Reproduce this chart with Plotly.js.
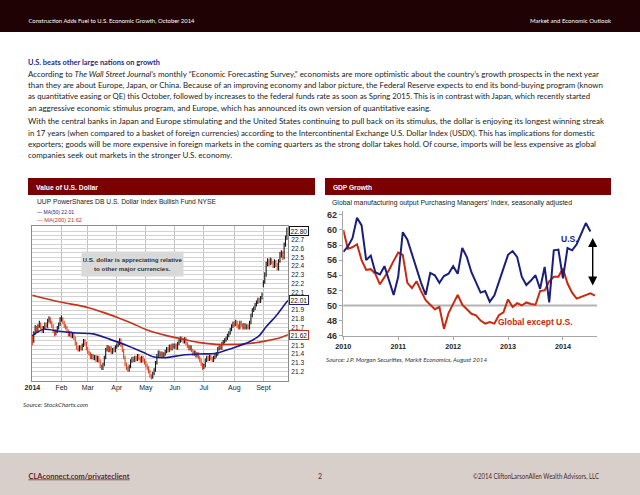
<!DOCTYPE html>
<html><head><meta charset="utf-8">
<script src="https://cdn.plot.ly/plotly-3.0.1.min.js"></script>
<style>
html,body{margin:0;padding:0;background:#fff;}
#page{position:relative;width:640px;height:495px;overflow:hidden;background:#fff;}
#bg{position:absolute;left:0;top:0;}
#chart{position:absolute;left:0;top:0;width:640px;height:495px;}
.body{font-family:Lato,"Open Sans",sans-serif;font-size:8.1px;fill:#222;}
</style></head><body>
<div id="page">
<svg id="bg" width="640" height="495" xmlns="http://www.w3.org/2000/svg">
  <rect x="0" y="0" width="640" height="32" fill="#1e0204"/>
  <text x="28.5" y="23" fill="#fff" font-family="Lato,sans-serif" font-size="6.3" textLength="166" lengthAdjust="spacingAndGlyphs">Construction Adds Fuel to U.S. Economic Growth, October 2014</text>
  <text x="530" y="23" fill="#fff" font-family="Lato,sans-serif" font-size="6.3" textLength="81" lengthAdjust="spacingAndGlyphs">Market and Economic Outlook</text>

  <text x="28" y="65" fill="#1f2a86" font-family="Lato,sans-serif" font-size="8.4" font-weight="bold" textLength="132" lengthAdjust="spacingAndGlyphs">U.S. beats other large nations on growth</text>
  <text id="refLine" class="body" x="28" y="76.5" textLength="571" lengthAdjust="spacingAndGlyphs">According to <tspan font-style="italic">The Wall Street Journal’s</tspan> monthly “Economic Forecasting Survey,” economists are more optimistic about the country’s growth prospects in the next year</text>
  <text class="body" x="28" y="88" textLength="575" lengthAdjust="spacingAndGlyphs">than they are about Europe, Japan, or China. Because of an improving economy and labor picture, the Federal Reserve expects to end its bond-buying program (known</text>
  <text class="body" x="28" y="99.3" textLength="562" lengthAdjust="spacingAndGlyphs">as quantitative easing or QE) this October, followed by increases to the federal funds rate as soon as Spring 2015. This is in contrast with Japan, which recently started</text>
  <text class="body lastline" x="28" y="110.6">an aggressive economic stimulus program, and Europe, which has announced its own version of quantitative easing.</text>
  <text class="body" x="28" y="124.2" textLength="576" lengthAdjust="spacingAndGlyphs">With the central banks in Japan and Europe stimulating and the United States continuing to pull back on its stimulus, the dollar is enjoying its longest winning streak</text>
  <text class="body" x="28" y="135.5" textLength="567" lengthAdjust="spacingAndGlyphs">in 17 years (when compared to a basket of foreign currencies) according to the Intercontinental Exchange U.S. Dollar Index (USDX). This has implications for domestic</text>
  <text class="body" x="28" y="146.8" textLength="568" lengthAdjust="spacingAndGlyphs">exporters; goods will be more expensive in foreign markets in the coming quarters as the strong dollar takes hold. Of course, imports will be less expensive as global</text>
  <text class="body lastline" x="28" y="158.1">companies seek out markets in the stronger U.S. economy.</text>

  <rect x="28" y="178" width="287" height="17" fill="#7b0000"/>
  <rect x="325" y="178" width="286" height="17" fill="#7b0000"/>
  <text x="36" y="190" fill="#fff" font-family="'Liberation Sans',Arial,sans-serif" font-weight="bold" font-size="8" textLength="62" lengthAdjust="spacingAndGlyphs">Value of U.S. Dollar</text>
  <text x="333" y="190" fill="#fff" font-family="'Liberation Sans',Arial,sans-serif" font-weight="bold" font-size="8" textLength="39" lengthAdjust="spacingAndGlyphs">GDP Growth</text>

  <text x="37" y="203.5" fill="#222" font-family="'Liberation Sans',Arial,sans-serif" font-size="6.6" textLength="179" lengthAdjust="spacingAndGlyphs">UUP PowerShares DB U.S. Dollar Index Bullish Fund NYSE</text>
  <text x="37" y="214" fill="#1c1c8c" font-family="'Liberation Sans',Arial,sans-serif" font-size="5.6" textLength="37" lengthAdjust="spacingAndGlyphs">— MA(50) 22.01</text>
  <text x="37" y="221.5" fill="#c8321a" font-family="'Liberation Sans',Arial,sans-serif" font-size="5.6" textLength="45" lengthAdjust="spacingAndGlyphs">— MA(200) 21.62</text>

  <text x="332" y="205.3" fill="#222" font-family="'Liberation Sans',Arial,sans-serif" font-size="6.6" textLength="240" lengthAdjust="spacingAndGlyphs">Global manufacturing output Purchasing Managers’ Index, seasonally adjusted</text>

  <text x="23" y="407" fill="#333" font-family="Lato,sans-serif" font-style="italic" font-size="5.8" textLength="65" lengthAdjust="spacingAndGlyphs">Source: StockCharts.com</text>
  <text x="326" y="362" fill="#333" font-family="Lato,sans-serif" font-style="italic" font-size="5.8" textLength="161" lengthAdjust="spacingAndGlyphs">Source: J.P. Morgan Securities, Markit Economics, August 2014</text>

  <rect x="0" y="453" width="640" height="42" fill="#d8cfca"/>
  <text x="28.5" y="478.5" fill="#6b1f1f" font-family="Lato,sans-serif" font-size="7" font-weight="bold" text-decoration="underline" textLength="101" lengthAdjust="spacingAndGlyphs">CLAconnect.com/privateclient</text>
  <text x="318" y="478.5" fill="#4a2a2a" font-family="Lato,sans-serif" font-size="7">2</text>
  <text x="473" y="478.5" fill="#4a2a2a" font-family="Lato,sans-serif" font-size="6.6" textLength="126" lengthAdjust="spacingAndGlyphs">©2014 CliftonLarsonAllen Wealth Advisors, LLC</text>
</svg>
<div id="chart"></div>
</div>
<script>
// paragraph last lines: same horizontal scaling as the full-width reference line
(function () {
  const ref = document.getElementById('refLine');
  const natural = ref.cloneNode(true);
  natural.removeAttribute('textLength'); natural.removeAttribute('lengthAdjust');
  natural.setAttribute('visibility', 'hidden');
  ref.parentNode.appendChild(natural);
  const k = 571 / natural.getComputedTextLength();
  natural.remove();
  document.querySelectorAll('.lastline').forEach(el => {
    el.setAttribute('textLength', (el.getComputedTextLength() * k).toFixed(1));
    el.setAttribute('lengthAdjust', 'spacingAndGlyphs');
  });
})();

// ---------- Value of U.S. Dollar (UUP), daily bars, Jan - Sep 2014 ----------
const monthTickIdx = [0, 21, 40, 61, 82, 103, 124, 146, 167];
const monthTickText = ['<b>2014</b>', 'Feb', 'Mar', 'Apr', 'May', 'Jun', 'Jul', 'Aug', 'Sept'];

const uupOpen = [
 21.60,21.55,21.64,21.70,21.66,21.72,21.75,21.70,21.66,21.70,21.74,21.72,21.78,21.80,21.76,21.72,21.66,21.63,21.66,21.70,21.74,
 21.79,21.80,21.76,21.72,21.70,21.66,21.62,21.64,21.60,21.62,21.58,21.52,21.47,21.45,21.48,21.46,21.50,21.55,21.52,
 21.46,21.42,21.40,21.36,21.38,21.35,21.37,21.33,21.36,21.32,21.26,21.24,21.28,21.36,21.45,21.48,21.44,21.47,21.42,21.46,21.44,
 21.48,21.50,21.52,21.56,21.50,21.44,21.36,21.28,21.24,21.22,21.26,21.32,21.35,21.33,21.36,21.34,21.38,21.35,21.32,21.36,21.33,
 21.30,21.27,21.24,21.20,21.15,21.13,21.18,21.22,21.30,21.38,21.42,21.39,21.41,21.38,21.40,21.43,21.46,21.44,21.49,21.46,21.50,
 21.48,21.50,21.47,21.52,21.55,21.58,21.56,21.54,21.57,21.52,21.49,21.46,21.48,21.44,21.40,21.42,21.38,21.40,21.36,21.33,21.28,
 21.25,21.27,21.33,21.36,21.34,21.37,21.35,21.33,21.36,21.38,21.40,21.46,21.48,21.47,21.52,21.54,21.56,21.58,21.61,21.64,21.68,21.72,
 21.75,21.74,21.77,21.72,21.70,21.76,21.73,21.70,21.73,21.70,21.72,21.70,21.76,21.84,21.90,21.92,21.96,21.99,22.02,22.00,22.04,
 22.18,22.22,22.30,22.42,22.46,22.43,22.47,22.44,22.40,22.46,22.42,22.37,22.46,22.53,22.55,22.50,22.64,22.72
];
const uupHigh = [
 21.62,21.66,21.73,21.72,21.74,21.78,21.76,21.72,21.72,21.76,21.76,21.80,21.83,21.82,21.78,21.74,21.68,21.68,21.72,21.76,21.82,
 21.84,21.82,21.78,21.74,21.72,21.68,21.66,21.66,21.64,21.64,21.60,21.54,21.49,21.50,21.50,21.52,21.57,21.57,21.54,
 21.48,21.44,21.42,21.40,21.40,21.39,21.39,21.38,21.38,21.34,21.28,21.30,21.38,21.47,21.50,21.50,21.49,21.49,21.47,21.48,21.50,
 21.52,21.54,21.58,21.58,21.52,21.46,21.38,21.30,21.26,21.28,21.34,21.37,21.37,21.38,21.38,21.40,21.40,21.37,21.38,21.38,21.35,
 21.32,21.29,21.26,21.22,21.17,21.20,21.24,21.32,21.40,21.44,21.44,21.43,21.43,21.42,21.45,21.48,21.48,21.51,21.51,21.52,21.52,
 21.52,21.52,21.54,21.57,21.60,21.60,21.58,21.59,21.59,21.54,21.51,21.50,21.50,21.46,21.44,21.44,21.42,21.42,21.38,21.35,21.30,
 21.29,21.35,21.38,21.38,21.39,21.39,21.37,21.38,21.40,21.42,21.48,21.50,21.50,21.54,21.56,21.58,21.60,21.63,21.66,21.70,21.74,21.77,
 21.77,21.79,21.78,21.74,21.78,21.78,21.75,21.75,21.75,21.74,21.74,21.78,21.86,21.92,21.94,21.98,22.01,22.04,22.04,22.06,22.10,
 22.24,22.33,22.45,22.49,22.48,22.50,22.49,22.46,22.48,22.47,22.44,22.48,22.56,22.58,22.57,22.67,22.75,22.84
];
const uupLow = [
 21.50,21.53,21.62,21.64,21.64,21.70,21.68,21.64,21.64,21.68,21.70,21.70,21.76,21.74,21.70,21.64,21.60,21.61,21.64,21.68,21.72,
 21.77,21.74,21.70,21.68,21.64,21.60,21.60,21.58,21.58,21.56,21.50,21.45,21.43,21.43,21.44,21.44,21.48,21.50,21.44,
 21.40,21.38,21.34,21.34,21.33,21.33,21.31,21.31,21.30,21.24,21.22,21.22,21.26,21.34,21.43,21.42,21.42,21.40,21.40,21.42,21.42,
 21.46,21.48,21.50,21.48,21.42,21.34,21.26,21.22,21.20,21.20,21.24,21.30,21.31,21.31,21.32,21.32,21.33,21.30,21.30,21.31,21.28,
 21.25,21.22,21.18,21.13,21.11,21.12,21.16,21.20,21.28,21.36,21.37,21.37,21.36,21.36,21.38,21.41,21.42,21.42,21.44,21.44,21.46,
 21.46,21.45,21.45,21.50,21.53,21.54,21.52,21.52,21.50,21.47,21.44,21.44,21.42,21.38,21.38,21.36,21.36,21.34,21.31,21.26,21.22,
 21.23,21.25,21.31,21.32,21.32,21.33,21.31,21.31,21.34,21.36,21.38,21.44,21.45,21.45,21.50,21.52,21.54,21.56,21.59,21.62,21.66,21.70,
 21.71,21.72,21.70,21.68,21.68,21.71,21.68,21.68,21.68,21.68,21.68,21.68,21.74,21.82,21.88,21.90,21.94,21.97,21.98,21.98,22.02,
 22.16,22.20,22.28,22.40,22.40,22.41,22.42,22.38,22.38,22.39,22.35,22.35,22.44,22.50,22.47,22.48,22.62,22.70
];
const uupClose = [
 21.55,21.64,21.70,21.66,21.72,21.75,21.70,21.66,21.70,21.74,21.72,21.78,21.80,21.76,21.72,21.66,21.63,21.66,21.70,21.74,21.79,
 21.80,21.76,21.72,21.70,21.66,21.62,21.64,21.60,21.62,21.58,21.52,21.47,21.45,21.48,21.46,21.50,21.55,21.52,21.46,
 21.42,21.40,21.36,21.38,21.35,21.37,21.33,21.36,21.32,21.26,21.24,21.28,21.36,21.45,21.48,21.44,21.47,21.42,21.46,21.44,21.48,
 21.50,21.52,21.56,21.50,21.44,21.36,21.28,21.24,21.22,21.26,21.32,21.35,21.33,21.36,21.34,21.38,21.35,21.32,21.36,21.33,21.30,
 21.27,21.24,21.20,21.15,21.13,21.18,21.22,21.30,21.38,21.42,21.39,21.41,21.38,21.40,21.43,21.46,21.44,21.49,21.46,21.50,21.48,
 21.50,21.47,21.52,21.55,21.58,21.56,21.54,21.57,21.52,21.49,21.46,21.48,21.44,21.40,21.42,21.38,21.40,21.36,21.33,21.28,21.25,
 21.27,21.33,21.36,21.34,21.37,21.35,21.33,21.36,21.38,21.40,21.46,21.48,21.47,21.52,21.54,21.56,21.58,21.61,21.64,21.68,21.72,21.75,
 21.74,21.77,21.72,21.70,21.76,21.73,21.70,21.73,21.70,21.72,21.70,21.76,21.84,21.90,21.92,21.96,21.99,22.02,22.00,22.04,22.07,
 22.22,22.30,22.42,22.46,22.43,22.47,22.44,22.40,22.46,22.42,22.37,22.46,22.53,22.55,22.50,22.64,22.72,22.80
];
// Moving averages, sampled at trading-day index
const ma50Idx = [0, 7.7, 19.5, 31.8, 43.9, 55.7, 68, 80, 87.3, 96.9, 109, 120.8, 133, 145, 157, 164, 169, 176.4, 183.7, 184.8];
const ma50Val = [21.61, 21.68, 21.66, 21.64, 21.63, 21.57, 21.50, 21.42, 21.37, 21.36, 21.39, 21.40, 21.41, 21.47, 21.54, 21.61, 21.71, 21.84, 21.99, 22.01];
const ma200Idx = [0, 10, 21, 40, 50, 61, 72, 82, 97, 109, 121, 133, 145, 157, 169, 178, 184.8];
const ma200Val = [22.07, 22.03, 21.99, 21.93, 21.88, 21.82, 21.75, 21.68, 21.61, 21.57, 21.53, 21.51, 21.51, 21.52, 21.55, 21.58, 21.62];

const dollarGridVals = [21.1,21.15,21.2,21.25,21.3,21.35,21.4,21.45,21.5,21.55,21.6,21.65,21.7,21.75,21.8,21.85,21.9,21.95,22.0,22.05,22.1,22.15,22.2,22.25,22.3,22.35,22.4,22.45,22.5,22.55,22.6,22.65,22.7,22.75,22.8,22.85];
const dollarGridText = ['','','21.2','','21.3','','21.4','','21.5','','','','21.7','','21.8','','21.9','','','','22.1','','22.2','','22.3','','22.4','','22.5','','22.6','','22.7','','',''];
const lastLabels = [['22.80', 22.80, '#111111'], ['22.01', 22.01, '#1c1c8c'], ['21.62', 21.62, '#c8321a']];

// ---------- GDP Growth: manufacturing PMI, monthly from Jan 2010 ----------
const pmiStartYear = 2010;
const pmiYearTicks = [2010, 2011, 2012, 2013, 2014];
const pmiValueTicks = [46, 48, 50, 52, 54, 56, 58, 60, 62];
const usPmi = [
 57.1, 57.8, 58.9, 61.6, 60.6, 56.0, 56.6, 54.4, 54.1, 55.2, 53.3, 51.4,
 53.8, 59.7, 58.7, 56.7, 54.7, 53.0, 51.4, 54.3, 54.0, 53.0, 53.9, 54.2,
 55.2, 54.2, 57.6, 56.4, 54.4, 53.1, 51.7, 51.9, 50.5, 51.3, 53.1, 54.7,
 56.7, 57.2, 56.4, 53.8, 52.7, 53.3, 54.0, 52.2, 55.1, 50.4, 57.3, 57.4,
 53.6, 57.6, 57.3, 58.1, 59.6, 60.9, 59.8
];
const globalExUsPmi = [
 60.0, 57.5, 57.7, 58.1, 56.0, 54.7, 54.8, 54.2, 52.8, 53.8, 54.7, 55.9,
 57.0, 56.7, 53.0, 52.3, 53.2, 51.9, 50.7, 50.1, 49.5, 49.8, 46.9, 49.0,
 50.2, 51.4, 50.1, 49.5, 48.9, 48.7, 48.0, 47.6, 47.8, 47.6, 48.7, 49.1,
 50.8, 49.8, 50.3, 50.0, 50.4, 50.2, 50.1, 51.9, 52.0, 53.2, 53.8, 53.8,
 54.9, 52.9, 51.7, 50.9, 51.1, 51.3, 51.6, 51.3
];

// ---------- layout helpers (page pixels -> paper) ----------
const W = 640, H = 495;
const px = x => x / W, py = y => 1 - y / H;
const NARROW = '"Liberation Sans Narrow","Arial Narrow","Liberation Sans",Arial,sans-serif';
const ARIAL = '"Liberation Sans",Arial,sans-serif';

const dayIdx = uupClose.map((_, i) => i);
const usX = usPmi.map((_, i) => pmiStartYear + i / 12);
const glX = globalExUsPmi.map((_, i) => pmiStartYear + i / 12);

const traces = [
  {type: 'ohlc', x: dayIdx, open: uupOpen, high: uupHigh, low: uupLow, close: uupClose,
   xaxis: 'x', yaxis: 'y', tickwidth: 0.4,
   increasing: {line: {color: '#151515', width: 1.1}},
   decreasing: {line: {color: '#e0401c', width: 1.1}}, hoverinfo: 'skip'},
  {type: 'scatter', mode: 'lines', x: ma200Idx, y: ma200Val, xaxis: 'x', yaxis: 'y',
   line: {color: '#c8321a', width: 1.6, shape: 'spline', smoothing: 0.8}, hoverinfo: 'skip'},
  {type: 'scatter', mode: 'lines', x: ma50Idx, y: ma50Val, xaxis: 'x', yaxis: 'y',
   line: {color: '#1c1c8c', width: 1.6, shape: 'spline', smoothing: 0.8}, hoverinfo: 'skip'},
  {type: 'scatter', mode: 'lines', x: glX, y: globalExUsPmi, xaxis: 'x2', yaxis: 'y2',
   line: {color: '#c8290f', width: 2}, hoverinfo: 'skip'},
  {type: 'scatter', mode: 'lines', x: usX, y: usPmi, xaxis: 'x2', yaxis: 'y2',
   line: {color: '#1a1f7a', width: 2}, hoverinfo: 'skip'}
];

const annotations = [
  {xref: 'paper', yref: 'paper', x: px(132), y: py(264), xanchor: 'center', yanchor: 'middle',
   width: 99, height: 22, bgcolor: '#d9d9d9', showarrow: false, align: 'center',
   text: '<b>U.S. dollar is appreciating relative<br>to other major currencies.</b>',
   font: {family: NARROW, size: 6.2, color: '#333'}},
  {xref: 'paper', yref: 'paper', x: px(569), y: py(238.5), xanchor: 'center', yanchor: 'middle',
   showarrow: false, text: '<b>U.S.</b>', font: {family: NARROW, size: 8.5, color: '#1a1f7a'}},
  {xref: 'paper', yref: 'paper', x: px(535), y: py(322), xanchor: 'center', yanchor: 'middle',
   showarrow: false, text: '<b>Global except U.S.</b>', font: {family: NARROW, size: 8.5, color: '#c8290f'}},
  {xref: 'paper', yref: 'paper', x: px(592.7), y: py(238), ax: 0, ay: 49, text: '',
   showarrow: true, arrowside: 'end+start', arrowhead: 2, startarrowhead: 2,
   arrowsize: 1.3, startarrowsize: 1.3, arrowwidth: 1.4, arrowcolor: '#000', standoff: 0, startstandoff: 0}
];
lastLabels.forEach(([t, v, c]) => annotations.push({
  xref: 'paper', yref: 'y', x: px(289.3), y: v, xanchor: 'left', yanchor: 'middle',
  showarrow: false, text: t, bgcolor: '#fff', bordercolor: c, borderwidth: 1, borderpad: 0.5,
  font: {family: NARROW, size: 6.6, color: '#111'}
}));

const layout = {
  width: W, height: H, margin: {l: 0, r: 0, t: 0, b: 0},
  paper_bgcolor: 'rgba(0,0,0,0)', plot_bgcolor: 'rgba(0,0,0,0)',
  showlegend: false, font: {family: ARIAL, color: '#222'},
  xaxis: {domain: [px(31.7), px(288)], range: [-0.5, 184.8], anchor: 'y',
    tickmode: 'array', tickvals: monthTickIdx, ticktext: monthTickText,
    showgrid: true, gridcolor: '#c2c2c2', gridwidth: 1, zeroline: false,
    showline: true, mirror: true, linecolor: '#8c8c8c', linewidth: 1, ticks: '',
    tickfont: {family: NARROW, size: 7, color: '#222'}, rangeslider: {visible: false}, fixedrange: true},
  yaxis: {domain: [py(380.7), py(226)], range: [21.097, 22.857], anchor: 'x', side: 'right',
    tickmode: 'array', tickvals: dollarGridVals, ticktext: dollarGridText,
    showgrid: true, gridcolor: '#d2d2d2', gridwidth: 1, zeroline: false,
    showline: true, mirror: true, linecolor: '#8c8c8c', linewidth: 1, ticks: '',
    ticklabelstandoff: 1, tickfont: {family: NARROW, size: 6.6, color: '#222'}, fixedrange: true},
  xaxis2: {domain: [px(343.3), px(597)], range: [2010, 2014.62], anchor: 'y2',
    tickmode: 'array', tickvals: pmiYearTicks, ticktext: pmiYearTicks.map(String),
    showgrid: false, zeroline: false, showline: true, linecolor: '#a6a6a6', linewidth: 1.5,
    ticks: 'outside', ticklen: 3, tickcolor: '#a6a6a6', tickwidth: 1,
    tickfont: {family: ARIAL, size: 7.2, color: '#222', weight: 'bold'}, fixedrange: true},
  yaxis2: {domain: [py(335.7), py(211)], range: [46, 62.5], anchor: 'x2',
    tickmode: 'array', tickvals: pmiValueTicks, ticktext: pmiValueTicks.map(String),
    showgrid: false, zeroline: false, showline: true, linecolor: '#a6a6a6', linewidth: 1.5,
    ticks: 'outside', ticklen: 3, tickcolor: '#a6a6a6', tickwidth: 1,
    tickfont: {family: NARROW, size: 9, color: '#333', weight: 'bold'}, fixedrange: true},
  shapes: [
    {type: 'line', xref: 'x2 domain', yref: 'y2', x0: 0, x1: 1, y0: 50, y1: 50,
     line: {color: '#b4b4b4', width: 2}, layer: 'below'}
  ],
  annotations: annotations
};

Plotly.newPlot('chart', traces, layout, {staticPlot: true, displayModeBar: false});
</script>
</body></html>
